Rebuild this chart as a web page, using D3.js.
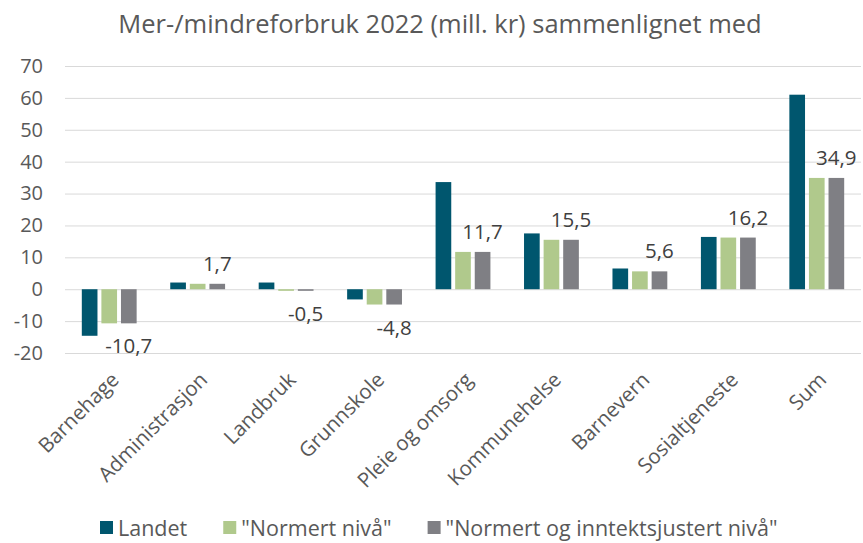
<!DOCTYPE html>
<html lang="no">
<head>
<meta charset="utf-8">
<title>Mer-/mindreforbruk 2022</title>
<script src="https://cdn.jsdelivr.net/npm/d3@7"></script>
<style>
  body { margin: 0; background: #fff; }
  svg text { font-family: "Open Sans", Lato, sans-serif; }
</style>
</head>
<body>
<svg id="chart" width="863" height="543"></svg>
<script>
// categories and series
var categories = ['Barnehage', 'Administrasjon', 'Landbruk', 'Grunnskole', 'Pleie og omsorg',
                  'Kommunehelse', 'Barnevern', 'Sosialtjeneste', 'Sum'];
var seriesNames = ['Landet', '"Normert nivå"', '"Normert og inntektsjustert nivå"'];
var landet = [-14.6, 2.1, 2.1, -3.2, 33.6, 17.5, 6.5, 16.4, 61.0];
var normert = [-10.7, 1.7, -0.5, -4.8, 11.7, 15.5, 5.6, 16.2, 34.9];
var normertInntekt = [-10.7, 1.7, -0.5, -4.8, 11.7, 15.5, 5.6, 16.2, 34.9];
var yTicks = [-20, -10, 0, 10, 20, 30, 40, 50, 60, 70];
var colors = ['#00566e', '#b0c98c', '#7f7f84'];

var series = [landet, normert, normertInntekt];

// plain hyphen minus + decimal comma, like the original
var fmt = v => String(v % 1 === 0 ? v : v.toFixed(1)).replace('.', ',');

var svg = d3.select('#chart');
var plot = {left: 65, right: 861, top: 66, bottom: 353};

var y = d3.scaleLinear().domain([-20, 70]).range([plot.bottom, plot.top]);

var x0 = d3.scaleBand()
  .domain(categories)
  .range([plot.left, plot.right])
  .paddingInner(0.38)
  .paddingOuter(0.19);

var x1 = d3.scaleBand()
  .domain(d3.range(series.length))
  .range([0, x0.bandwidth()])
  .paddingInner(0.2);

// title
svg.append('text')
  .attr('x', 440)
  .attr('y', 33)
  .attr('text-anchor', 'middle')
  .attr('font-size', 25.5)
  .attr('fill', '#595959')
  .text('Mer-/mindreforbruk 2022 (mill. kr) sammenlignet med');

// gridlines + y labels
var yAxis = d3.axisLeft(y)
  .tickValues(yTicks)
  .tickSize(-(plot.right - plot.left))
  .tickPadding(22)
  .tickFormat(fmt);

var gy = svg.append('g')
  .attr('transform', 'translate(' + plot.left + ',0)')
  .call(yAxis);
gy.select('.domain').remove();
gy.selectAll('.tick line').attr('stroke', '#d9d9d9').attr('stroke-width', 1);
gy.selectAll('.tick text')
  .attr('font-size', 20)
  .attr('fill', '#595959')
  .attr('font-family', '"Open Sans", sans-serif');

// bars
var groups = svg.append('g')
  .selectAll('g')
  .data(categories)
  .join('g')
  .attr('transform', d => 'translate(' + x0(d) + ',0)');

groups.selectAll('rect')
  .data((d, i) => series.map((s, k) => ({k: k, v: s[i]})))
  .join('rect')
  .attr('x', d => x1(d.k))
  .attr('width', x1.bandwidth())
  .attr('y', d => y(Math.max(0, d.v)))
  .attr('height', d => Math.abs(y(d.v) - y(0)))
  .attr('fill', d => colors[d.k]);

// data labels on the last series
svg.append('g')
  .selectAll('text')
  .data(categories)
  .join('text')
  .attr('x', (d, i) => x0(d) + x1(2) + x1.bandwidth() / 2)
  .attr('y', (d, i) => normertInntekt[i] >= 0 ? y(normertInntekt[i]) - 13 : y(normertInntekt[i]) + 30)
  .attr('text-anchor', 'middle')
  .attr('font-size', 20.5)
  .attr('fill', '#404040')
  .text((d, i) => fmt(normertInntekt[i]));

// category labels, rotated
svg.append('g')
  .selectAll('text')
  .data(categories)
  .join('text')
  .attr('transform', d => 'translate(' + (x0(d) + x0.bandwidth() / 2 + 11) + ',381) rotate(-45)')
  .attr('text-anchor', 'end')
  .attr('font-size', 20.5)
  .attr('fill', '#595959')
  .text(d => d);

// legend
var legend = svg.append('g').attr('transform', 'translate(0,536)');
var lx = 100;
seriesNames.forEach(function (name, k) {
  legend.append('rect')
    .attr('x', lx)
    .attr('y', -15)
    .attr('width', 13)
    .attr('height', 13)
    .attr('fill', colors[k]);
  var t = legend.append('text')
    .attr('x', lx + 18)
    .attr('y', 0)
    .attr('font-size', 21.5)
    .attr('fill', '#595959')
    .text(name);
  lx += 18 + t.node().getComputedTextLength() + 36;
});
</script>
</body>
</html>
